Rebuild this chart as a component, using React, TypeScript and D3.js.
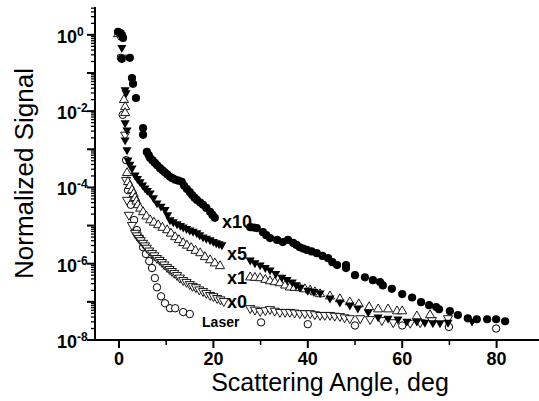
import React from 'react'
import * as d3 from 'd3'

// [scattering angle (deg), normalized signal]
const x10Data: [number, number][] = [
  [-0.2, 1.2], [0.2, 1.13], [0.6, 1.0], [0.85, 0.83], [0.6, 0.235], [2.3, 0.25],
  [2.75, 0.074], [2.97, 0.052], [3.6, 0.022], [5.1, 3.6e-3], [5.1, 2.4e-3],
  [5.9, 8.5e-4], [6.3, 7e-4], [6.6, 5.9e-4], [7.1, 5.1e-4], [7.6, 4.4e-4],
  [8.1, 3.8e-4], [8.7, 3.2e-4], [9.2, 2.8e-4], [9.7, 2.5e-4], [10.2, 2.2e-4],
  [10.8, 1.9e-4], [11.3, 1.75e-4], [11.9, 1.6e-4], [12.6, 1.5e-4], [13.3, 1.4e-4],
  [13.8, 1.1e-4], [14.4, 9.1e-5], [15.0, 7.5e-5], [15.5, 6.3e-5], [16.0, 5.4e-5],
  [16.5, 4.7e-5], [17.2, 4.0e-5], [17.8, 3.5e-5], [18.5, 2.9e-5], [19.3, 2.3e-5],
  [19.8, 1.9e-5], [20.3, 1.6e-5],
  [27.8, 9.1e-6], [28.5, 8.9e-6], [29.2, 8.6e-6], [30.5, 6.7e-6], [31.2, 5.6e-6],
  [32.0, 4.7e-6], [33.5, 4.2e-6], [34.7, 3.7e-6], [35.8, 4.2e-6], [36.9, 3.5e-6],
  [37.6, 3.1e-6], [38.3, 2.7e-6], [39.0, 2.5e-6], [39.8, 2.3e-6], [40.8, 2.1e-6],
  [41.9, 1.9e-6], [43.1, 1.6e-6], [44.3, 1.4e-6], [45.2, 1.1e-6], [46.2, 9.2e-7],
  [48.1, 9.2e-7], [48.1, 7.7e-7],
  [50.0, 5.0e-7], [52.1, 4.4e-7], [53.8, 3.7e-7], [55.3, 3.3e-7], [55.9, 2.7e-7],
  [57.8, 2.2e-7], [60.0, 1.6e-7], [62.1, 1.3e-7], [64.0, 9.8e-8], [65.7, 8.2e-8],
  [67.2, 7.3e-8], [67.8, 6.4e-8], [70.1, 5.7e-8], [71.8, 4.5e-8], [73.9, 3.7e-8],
  [75.8, 3.5e-8], [78.0, 3.5e-8], [79.9, 3.5e-8], [81.8, 3.1e-8],
]

const x5Data: [number, number][] = [
  [0.2, 1.13], [0.6, 0.46], [1.3, 0.036], [1.5, 0.03], [1.3, 4.9e-3], [1.7, 3.2e-3],
  [1.3, 1.75e-3], [1.7, 9.6e-4], [1.9, 5.2e-4], [2.3, 4.0e-4], [2.75, 3.2e-4],
  [3.4, 2.1e-4], [3.9, 1.7e-4], [4.45, 1.4e-4], [5.0, 1.15e-4], [5.5, 9.6e-5],
  [6.0, 8.3e-5], [6.6, 7.1e-5], [7.3, 5.3e-5], [8.05, 3.9e-5], [8.9, 3.2e-5],
  [9.75, 2.6e-5], [10.3, 1.9e-5], [10.8, 1.4e-5], [11.5, 1.25e-5], [12.3, 1.1e-5],
  [13.0, 1.0e-5], [13.6, 9.1e-6], [14.3, 8.3e-6], [15.0, 7.6e-6], [15.7, 7.0e-6],
  [16.5, 6.4e-6], [17.1, 5.7e-6], [17.8, 5.0e-6], [18.5, 4.6e-6], [19.3, 4.2e-6],
  [20.0, 3.8e-6], [20.6, 3.5e-6], [21.2, 3.3e-6], [21.8, 3.1e-6],
  [27.8, 1.24e-6], [28.8, 1.05e-6], [29.9, 9.2e-7], [31.0, 7.9e-7], [32.0, 6.8e-7],
  [33.2, 5.5e-7], [34.5, 4.4e-7], [35.6, 3.8e-7], [36.7, 3.3e-7], [37.5, 2.8e-7],
  [38.3, 2.4e-7], [40.0, 2.0e-7], [41.3, 1.85e-7], [42.6, 1.7e-7], [44.7, 1.25e-7],
  [46.8, 9.8e-8], [48.9, 8.2e-8], [50.6, 6.8e-8], [52.8, 5.4e-8], [54.9, 4.0e-8],
  [57.0, 3.7e-8], [59.1, 3.5e-8], [61.0, 3.1e-8], [63.1, 3.1e-8], [64.8, 2.9e-8],
  [66.5, 2.8e-8], [68.0, 2.8e-8], [69.7, 2.9e-8], [74.8, 3.1e-8],
]

const x1Data: [number, number][] = [
  [-0.2, 1.05], [1.05, 0.0197], [1.3, 0.0129], [1.3, 8.97e-3], [1.7, 2.4e-4],
  [1.9, 1.39e-4], [2.3, 1.1e-4], [2.75, 8.5e-5], [3.1, 6.8e-5], [3.4, 5.3e-5],
  [3.7, 4.3e-5], [4.0, 3.45e-5], [4.5, 2.8e-5], [5.1, 2.26e-5], [5.8, 1.75e-5],
  [6.6, 1.39e-5], [7.4, 1.2e-5], [8.3, 1.03e-5], [9.2, 8.8e-6], [10.2, 7.6e-6],
  [11.0, 6.2e-6], [11.9, 5.0e-6], [12.7, 4.2e-6], [13.6, 3.5e-6], [14.4, 3.0e-6],
  [15.3, 2.6e-6], [16.2, 2.2e-6], [17.2, 1.9e-6], [18.2, 1.5e-6], [19.3, 1.24e-6],
  [20.3, 1.03e-6], [21.4, 8.7e-7],
  [27.8, 4.4e-7], [28.8, 4.3e-7], [29.9, 4.2e-7], [31.0, 3.8e-7], [32.0, 3.5e-7],
  [33.0, 3.3e-7], [34.1, 3.1e-7], [35.2, 2.7e-7], [36.2, 2.4e-7], [37.2, 2.35e-7],
  [38.3, 2.3e-7], [39.4, 2.15e-7], [40.5, 2.0e-7], [41.5, 1.8e-7], [42.6, 1.6e-7],
  [44.7, 1.4e-7], [46.8, 1.18e-7], [48.9, 9.8e-8], [50.8, 8.7e-8], [53.0, 7.3e-8],
  [54.9, 6.4e-8], [57.0, 6.4e-8], [58.9, 5.7e-8], [60.0, 5.7e-8], [63.1, 4.2e-8],
  [65.9, 4.5e-8],
]

const x0Data: [number, number][] = [
  [0.0, 1.0], [0.6, 0.25], [1.3, 2.4e-3], [1.5, 1.56e-4], [1.7, 4.7e-5],
  [2.1, 1.9e-5], [2.75, 1.03e-5], [3.4, 6.4e-6], [3.8, 5.5e-6], [4.2, 4.7e-6],
  [4.6, 4.1e-6], [5.1, 3.5e-6], [5.5, 3.0e-6], [5.9, 2.6e-6], [6.4, 2.2e-6],
  [7.0, 1.9e-6], [7.5, 1.65e-6], [8.05, 1.4e-6], [8.6, 1.25e-6], [9.1, 1.1e-6],
  [9.6, 9.5e-7], [10.2, 8.1e-7], [10.7, 7.2e-7], [11.2, 6.4e-7], [11.7, 5.7e-7],
  [12.3, 5.0e-7], [12.9, 4.3e-7], [13.6, 3.7e-7], [14.3, 3.3e-7], [15.0, 2.9e-7],
  [15.6, 2.6e-7], [16.3, 2.4e-7], [17.0, 2.1e-7], [17.8, 1.9e-7], [18.5, 1.7e-7],
  [19.3, 1.5e-7], [20.0, 1.4e-7], [20.8, 1.25e-7], [21.5, 1.15e-7], [22.2, 1.04e-7],
  [27.8, 6.8e-8], [28.8, 6.2e-8], [29.9, 5.7e-8], [31.0, 6.0e-8], [32.0, 6.4e-8],
  [33.0, 5.8e-8], [34.1, 5.4e-8], [35.2, 5.4e-8], [36.2, 5.4e-8], [37.2, 5.2e-8],
  [38.3, 5.0e-8], [39.4, 5.0e-8], [40.5, 5.0e-8], [41.5, 4.7e-8], [42.6, 4.5e-8],
  [43.6, 4.5e-8], [44.7, 4.5e-8], [45.7, 4.3e-8], [46.8, 4.2e-8], [47.8, 3.9e-8],
  [48.9, 3.7e-8], [51.1, 3.7e-8], [53.2, 3.5e-8], [55.7, 3.3e-8], [58.1, 2.9e-8],
  [61.7, 2.8e-8], [63.8, 2.9e-8], [66.3, 3.3e-8], [69.7, 3.7e-8],
]

const laserData: [number, number][] = [
  [0.4, 0.25], [0.8, 8e-3], [1.5, 5.2e-4], [1.9, 8.5e-5], [2.5, 3.5e-5],
  [3.2, 1.4e-5], [3.8, 7.6e-6], [4.45, 4.7e-6], [5.1, 2.7e-6], [5.7, 1.8e-6],
  [6.4, 1.17e-6], [7.0, 7.7e-7], [7.6, 4.2e-7], [8.05, 2.4e-7], [8.9, 1.4e-7],
  [9.75, 9.2e-8], [10.8, 6.8e-8], [11.9, 6.8e-8], [13.6, 5.4e-8], [15.0, 4.8e-8],
  [30.1, 2.9e-8], [40.0, 2.6e-8], [50.0, 2.4e-8], [60.0, 2.4e-8], [69.9, 2.2e-8],
  [79.9, 2.0e-8],
]

const xMajorTicks = [0, 20, 40, 60, 80]
const xMinorTicks = [10, 30, 50, 70]
const yLabelExponents = [0, -2, -4, -6, -8]
const curveLabels = ['x10', 'x5', 'x1', 'x0', 'Laser']

const W = 539
const H = 401
const FONT = '"Liberation Sans", Arial, Helvetica, sans-serif'

export default function App() {
  const x = d3.scaleLinear().domain([-5, 90]).range([95.4, 543.8])
  const y = d3.scaleLog().domain([1e-8, Math.pow(10, 0.73)]).range([340, 7])
  const [y0, y1] = y.domain()

  const axisX = 95
  const axisY = 340

  const tri = d3.symbol().type(d3.symbolTriangle).size(36)() || ''

  // log ticks: decades + minor 2..9
  const yMajor: number[] = []
  const yMinor: number[] = []
  for (let e = -8; e <= 0; e++) {
    yMajor.push(Math.pow(10, e))
    for (let k = 2; k <= 9; k++) {
      const v = k * Math.pow(10, e)
      if (v <= y1) yMinor.push(v)
    }
  }

  // where the curve labels sit, in data coordinates
  const labelAnchors: [number, number][] = [
    [21.8, 8.6e-6], [22.9, 1.24e-6], [22.9, 2.9e-7], [22.9, 6.8e-8], [17.6, 2.2e-8],
  ]

  return (
    <svg
      width={W}
      height={H}
      style={{ position: 'absolute', left: 0, top: 0, background: '#fff' }}
      fontFamily={FONT}
    >
      <rect width={W} height={H} fill="#fff" />

      {/* data */}
      <g>
        {laserData.map((d, i) => (
          <circle key={'l' + i} cx={x(d[0])} cy={y(d[1])} r={3.7} fill="#fff" stroke="#000" strokeWidth={1} />
        ))}
        {x0Data.map((d, i) => (
          <path key={'a' + i} d={tri} transform={`translate(${x(d[0])},${y(d[1])}) rotate(180)`} fill="#fff" stroke="#000" strokeWidth={0.9} />
        ))}
        {x1Data.map((d, i) => (
          <path key={'b' + i} d={tri} transform={`translate(${x(d[0])},${y(d[1])})`} fill="#fff" stroke="#000" strokeWidth={0.9} />
        ))}
        {x5Data.map((d, i) => (
          <path key={'c' + i} d={tri} transform={`translate(${x(d[0])},${y(d[1])}) rotate(180)`} fill="#000" />
        ))}
        {x10Data.map((d, i) => (
          <circle key={'d' + i} cx={x(d[0])} cy={y(d[1])} r={4.1} fill="#000" />
        ))}
      </g>

      {/* curve labels */}
      {curveLabels.map((t, i) => {
        const [ax, ay] = labelAnchors[i]
        const isLaser = t === 'Laser'
        return (
          <text key={t} x={x(ax)} y={y(ay)} fontSize={isLaser ? 14 : 18} fontWeight="bold" fill="#000">
            {t}
          </text>
        )
      })}

      {/* y axis */}
      <line x1={axisX} x2={axisX} y1={y(y1)} y2={axisY + 1} stroke="#000" strokeWidth={2} />
      {yMajor.map((v) => (
        <line key={'ym' + v} x1={axisX - 8} x2={axisX} y1={y(v)} y2={y(v)} stroke="#000" strokeWidth={2} />
      ))}
      {yMinor.map((v) => (
        <line key={'yn' + v} x1={axisX - 4} x2={axisX} y1={y(v)} y2={y(v)} stroke="#000" strokeWidth={1.3} />
      ))}
      {yLabelExponents.map((e) => (
        <text key={'yl' + e} x={57} y={y(Math.pow(10, e)) + 8} fontSize={18} fontWeight="bold" fill="#000">
          10
          <tspan fontSize={12} dy={-7}>
            {e === 0 ? '0' : '-' + Math.abs(e)}
          </tspan>
        </text>
      ))}

      {/* x axis */}
      <line x1={axisX - 1} x2={W} y1={axisY} y2={axisY} stroke="#000" strokeWidth={2} />
      {xMajorTicks.map((t) => (
        <g key={'xm' + t}>
          <line x1={x(t)} x2={x(t)} y1={axisY} y2={axisY + 8} stroke="#000" strokeWidth={2} />
          <text x={x(t)} y={365} fontSize={18} fontWeight="bold" textAnchor="middle" fill="#000">
            {t}
          </text>
        </g>
      ))}
      {xMinorTicks.map((t) => (
        <line key={'xn' + t} x1={x(t)} x2={x(t)} y1={axisY} y2={axisY + 5} stroke="#000" strokeWidth={1.5} />
      ))}

      {/* titles */}
      <text x={330} y={391} fontSize={25} textAnchor="middle" fill="#000">
        Scattering Angle, deg
      </text>
      <text
        transform={`translate(33,${(y(y1) + y(y0)) / 2}) rotate(-90)`}
        fontSize={26}
        textAnchor="middle"
        fill="#000"
      >
        Normalized Signal
      </text>
    </svg>
  )
}
